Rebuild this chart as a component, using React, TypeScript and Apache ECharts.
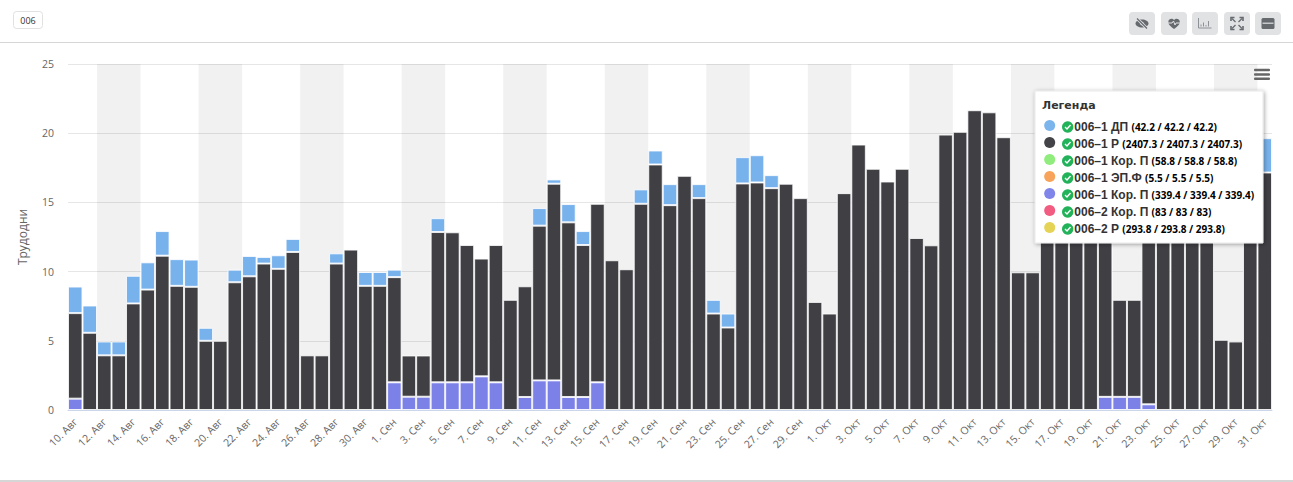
import React, { useEffect, useRef } from "react";
import * as echarts from "echarts";

const augDays = Array.from({ length: 22 }, (_, i) => `${i + 10}. Авг`);
const sepDays = Array.from({ length: 30 }, (_, i) => `${i + 1}. Сен`);
const octDays = Array.from({ length: 31 }, (_, i) => `${i + 1}. Окт`);
const categories = [...augDays, ...sepDays, ...octDays];

const _ = null;
const purpleValues = [
  0.82,_,_,_,_,_,_,_,_,_,_,_,_,_,_,_,_,_,_,_,_,_,
  2,0.96,0.96,2,2,2,2.43,2,_,0.94,2.14,2.14,0.94,0.94,2,_,_,_,_,_,_,_,_,_,_,_,_,_,_,_,
  _,_,_,_,_,_,_,_,_,_,_,_,_,_,_,_,_,_,_,0.95,0.95,0.95,0.41,_,_,_,_,_,_,_,_,
];
const darkValues = [
  6.18,5.58,3.95,3.95,7.7,8.7,11.15,8.97,8.9,5,5,9.23,9.66,10.58,10.2,11.42,3.95,3.95,10.58,11.59,8.97,8.97,
  7.6,2.98,2.98,10.86,10.84,9.92,8.51,9.92,7.96,8,11.18,14.21,12.62,10.98,12.9,10.82,10.17,14.9,17.74,14.8,16.92,15.31,6.97,5.96,16.37,16.44,16.03,16.35,15.31,7.81,
  6.97,15.67,19.18,17.43,16.51,17.43,12.43,11.9,19.9,20.1,21.66,21.51,19.71,9.95,9.95,15,15,16,14,13,7.01,7.01,15,16,16,14,15,5.07,4.95,15,17.16,
];
const blueValues = [
  1.92,1.97,1,1,2,1.97,1.78,1.93,1.97,0.94,_,0.91,1.47,0.48,0.98,0.94,_,_,0.74,_,1,1,
  0.54,_,_,1,_,_,_,_,_,_,1.27,0.31,1.32,1.01,_,_,_,1.04,1.01,1.52,_,1.01,0.99,1.01,1.9,1.97,0.94,_,_,_,
  _,_,_,_,_,_,_,_,_,_,_,_,_,_,_,_,_,_,_,_,_,_,_,_,_,_,_,_,_,_,2.48,
];
const weekendStarts = [2, 9, 16, 23, 30, 37, 44, 51, 58, 65, 72, 79];

const legendNames = ["006–1 ДП", "006–1 Р", "006–1 Кор. П", "006–1 ЭП.Ф", "006–1 Кор. П", "006–2 Кор. П", "006–2 Р"];
const legendValues = ["42.2", "2407.3", "58.8", "5.5", "339.4", "83", "293.8"];
const legendColors = ["#7cb5ec", "#434348", "#90ed7d", "#f7a35c", "#8085e9", "#f15c80", "#e4d354"];
const legendRowY = [126, 143, 160, 177, 194, 211, 228];

const FONT = "'Open Sans', sans-serif";
const LEGEND_FONT = "'DejaVu Sans', sans-serif";
const ICON = "#666a6e";
const BTN = "#e1e2e4";

echarts.graphic.registerShape(
  "heartIcon",
  echarts.graphic.extendPath("M8 14 C3 10 1 8 1 5 C1 2.5 3 1 5 1 C6.3 1 7.4 1.7 8 2.8 C8.6 1.7 9.7 1 11 1 C13 1 15 2.5 15 5 C15 8 13 10 8 14 Z", {})
);

const btnX = [1129, 1161, 1192, 1224, 1255];

function toolbar(): any[] {
  const out: any[] = [];
  btnX.forEach((x) => {
    out.push({ type: "rect", shape: { x, y: 12, width: 26, height: 23, r: 4 }, style: { fill: BTN }, silent: true });
  });
  const c = (i: number) => btnX[i] + 13;
  const cy = 23.5;
  // eye with slash
  out.push({ type: "ellipse", shape: { cx: c(0), cy, rx: 6.5, ry: 4 }, style: { fill: ICON } });
  out.push({ type: "circle", shape: { cx: c(0), cy, r: 1.8 }, style: { fill: BTN } });
  out.push({ type: "line", shape: { x1: c(0) - 5, y1: cy - 5, x2: c(0) + 5, y2: cy + 5 }, style: { stroke: BTN, lineWidth: 3 } });
  out.push({ type: "line", shape: { x1: c(0) - 5, y1: cy - 5, x2: c(0) + 5, y2: cy + 5 }, style: { stroke: ICON, lineWidth: 1.3 } });
  // heart
  out.push({ type: "heartIcon", x: c(1) - 6.5, y: cy - 5.5, scaleX: 0.82, scaleY: 0.78, style: { fill: ICON } });
  out.push({
    type: "polyline",
    shape: { points: [[c(1) - 6, cy - 0.5], [c(1) - 2, cy - 0.5], [c(1) - 0.5, cy - 2.5], [c(1) + 1, cy + 1.5], [c(1) + 2, cy - 0.5], [c(1) + 6, cy - 0.5]] },
    style: { stroke: BTN, fill: "none", lineWidth: 1 },
  });
  // chart
  out.push({
    type: "polyline",
    shape: { points: [[c(2) - 6.5, cy - 5.5], [c(2) - 6.5, cy + 4.5], [c(2) + 6.5, cy + 4.5]] },
    style: { stroke: "#8d9094", fill: "none", lineWidth: 1 },
  });
  [[-4, 2], [-1.5, 4], [1, 1.5], [3.5, 5.5]].forEach(([dx, h]) => {
    out.push({ type: "line", shape: { x1: c(2) + dx, y1: cy + 3, x2: c(2) + dx, y2: cy + 3 - h }, style: { stroke: "#8d9094", lineWidth: 1 } });
  });
  // expand
  [[-1, -1], [1, -1], [-1, 1], [1, 1]].forEach(([sx, sy]) => {
    out.push({ type: "line", shape: { x1: c(3) + sx * 1.5, y1: cy + sy * 1.5, x2: c(3) + sx * 5, y2: cy + sy * 5 }, style: { stroke: ICON, lineWidth: 1.2 } });
    out.push({
      type: "polyline",
      shape: { points: [[c(3) + sx * 2.5, cy + sy * 6], [c(3) + sx * 6, cy + sy * 6], [c(3) + sx * 6, cy + sy * 2.5]] },
      style: { stroke: ICON, fill: "none", lineWidth: 1.6 },
    });
  });
  // window
  out.push({ type: "rect", shape: { x: c(4) - 6.5, y: cy - 5.5, width: 13, height: 11, r: 1.5 }, style: { fill: ICON } });
  out.push({ type: "rect", shape: { x: c(4) - 5.5, y: cy - 1, width: 11, height: 1.5 }, style: { fill: "#c5c7ca" } });
  return out;
}

function legendBox(): any[] {
  const out: any[] = [
    {
      type: "rect",
      z: 20,
      shape: { x: 1035, y: 91, width: 228, height: 152 },
      style: { fill: "#fff", stroke: "#e9e9e9", lineWidth: 1, shadowBlur: 4, shadowColor: "rgba(0,0,0,0.35)", shadowOffsetX: 1, shadowOffsetY: 1 },
    },
    {
      type: "text",
      z: 21,
      x: 1042,
      y: 105,
      style: { text: "Легенда", font: `bold 11px ${LEGEND_FONT}`, fill: "#333", verticalAlign: "middle" },
    },
  ];
  legendNames.forEach((name, i) => {
    const y = legendRowY[i];
    const v = legendValues[i];
    out.push({ type: "circle", z: 21, shape: { cx: 1049.7, cy: y - 0.5, r: 5.5 }, style: { fill: legendColors[i] } });
    out.push({ type: "circle", z: 21, shape: { cx: 1067.7, cy: y + 1, r: 5.7 }, style: { fill: "#21b25a" } });
    out.push({
      type: "polyline",
      z: 22,
      shape: { points: [[1065, y + 1], [1067, y + 3], [1070.5, y - 1]] },
      style: { stroke: "#fff", fill: "none", lineWidth: 1.4 },
    });
    out.push({
      type: "text",
      z: 21,
      x: 1074.3,
      y: y + 1,
      style: {
        text: `{n|${name}} {g|(${v} / }{o|${v}}{g| / }{e|${v}}{g|)}`,
        verticalAlign: "middle",
        rich: {
          n: { font: `11px ${LEGEND_FONT}`, fontWeight: 600, fill: "#333", color: "#333" },
          g: { font: `bold 10px ${FONT}`, color: "#555" },
          o: { font: `bold 10px ${FONT}`, color: "#ffb60a" },
          e: { font: `bold 10px ${FONT}`, color: "#1cbf4e" },
        },
      },
    });
  });
  return out;
}

function chrome(): any[] {
  const out: any[] = [
    { type: "rect", shape: { x: 0, y: 42, width: 1293, height: 1 }, style: { fill: "#d6d6d6" }, silent: true },
    { type: "rect", shape: { x: 0, y: 480, width: 1293, height: 2 }, style: { fill: "#d6d6d6" }, silent: true },
    { type: "rect", shape: { x: 13.5, y: 11.5, width: 29, height: 17, r: 3 }, style: { fill: "#fff", stroke: "#e2e2e2", lineWidth: 1 } },
    { type: "text", x: 28, y: 20, style: { text: "006", font: `9px ${FONT}`, fill: "#333", align: "center", verticalAlign: "middle" } },
  ];
  [70, 74.4, 78.8].forEach((y) => {
    out.push({ type: "rect", z: 19, shape: { x: 1254, y: y - 1.25, width: 16, height: 2.5, r: 1 }, style: { fill: "#666" } });
  });
  return out;
}

export default function App() {
  const ref = useRef<HTMLDivElement>(null);
  useEffect(() => {
    const chart = echarts.init(ref.current!, undefined, { renderer: "svg" });
    const barStyle = (color: string) => ({ color, borderColor: "rgba(255,255,255,0.8)", borderWidth: 1 });
    const base = { type: "bar", stack: "total", barWidth: "100%", barGap: "0%", barCategoryGap: "0%", z: 2 };
    chart.setOption({
      animation: false,
      textStyle: { fontFamily: FONT },
      tooltip: { show: false },
      grid: { left: 68, right: 21, top: 64, bottom: 72, containLabel: false },
      xAxis: {
        type: "category",
        data: categories,
        axisTick: { show: false },
        axisLine: { lineStyle: { color: "#ccd6eb", width: 1 } },
        axisLabel: { interval: 1, rotate: 45, color: "#666", fontSize: 10.5, fontFamily: FONT, margin: 10, hideOverlap: false },
        splitLine: { show: false },
      },
      yAxis: {
        type: "value",
        min: 0,
        max: 25,
        interval: 5,
        name: "Трудодни",
        nameLocation: "middle",
        nameGap: 40,
        nameTextStyle: { color: "#666", fontSize: 12, fontFamily: FONT },
        axisLabel: { color: "#666", fontSize: 10.5, fontFamily: FONT, margin: 14 },
        axisLine: { show: false },
        axisTick: { show: false },
        splitLine: { lineStyle: { color: "#e6e6e6", width: 1 } },
      },
      series: [
        {
          ...base,
          name: "006–1 Кор. П",
          data: purpleValues,
          itemStyle: barStyle("#7c81e8"),
          markArea: {
            silent: true,
            z: 1,
            itemStyle: { color: "rgba(0,0,0,0.055)" },
            data: weekendStarts.map((s) => [{ xAxis: categories[s] }, { xAxis: categories[s + 2] }]),
          },
        },
        { ...base, name: "006–1 Р", data: darkValues, itemStyle: barStyle("#3f3f44") },
        { ...base, name: "006–1 ДП", data: blueValues, itemStyle: barStyle("#78b2ec") },
      ],
      graphic: { elements: [...chrome(), ...toolbar(), ...legendBox()] },
    });
    return () => chart.dispose();
  }, []);
  return <div ref={ref} style={{ position: "absolute", left: 0, top: 0, width: 1293, height: 482, background: "#fff" }} />;
}
